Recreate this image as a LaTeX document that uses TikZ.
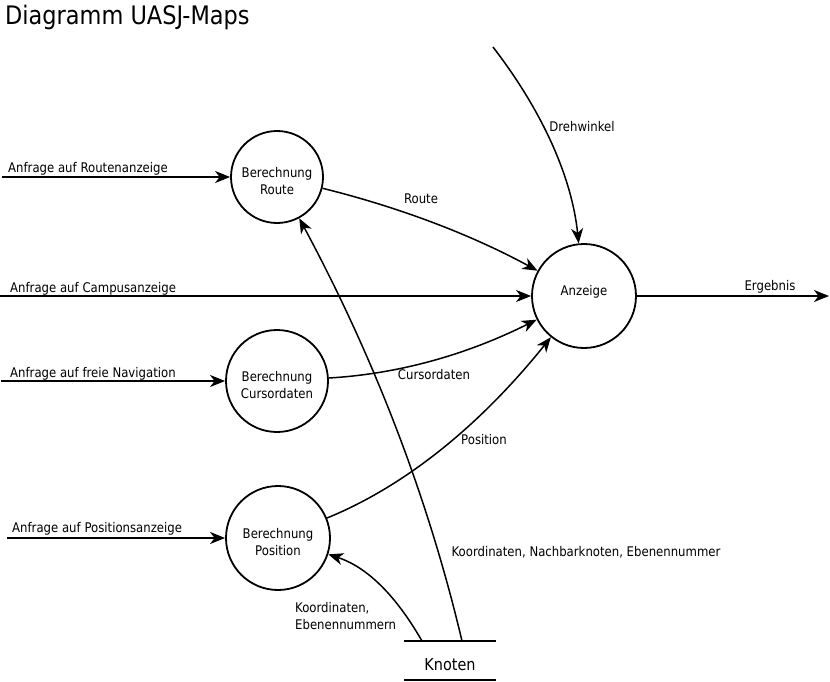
\documentclass[tikz,border=0pt]{standalone}
\usepackage{fontspec}
\setmainfont{DejaVu Sans}[FakeStretch=0.88]
\usetikzlibrary{arrows.meta,calc}
\begin{document}
\begin{tikzpicture}[x=1pt,y=-1pt,
  every node/.style={font=\fontsize{13.3pt}{17pt}\selectfont, inner sep=0pt},
  proc/.style={draw, circle, line width=1.8pt},
  flow/.style={line width=2pt, -{Stealth[length=15pt,width=12pt,inset=4.5pt]}},
  cflow/.style={line width=1.5pt, -{Stealth[length=15pt,width=12pt,inset=4.5pt]}},
  store/.style={line width=1.8pt},
  lbl/.style={anchor=base west},
]
\useasboundingbox (0,0) rectangle (830,682);
\node[anchor=base west, font=\fontsize{25.5pt}{28pt}\selectfont] (title) at (5,25) {Diagramm UASJ-Maps};

\node[proc, minimum size=92pt, label={[name=routetxt, align=center, yshift=-4pt]center:Berechnung\\Route}] (route) at (277,177) {};
\node[proc, minimum size=102pt, label={[name=cursortxt, align=center, yshift=-4pt]center:Berechnung\\Cursordaten}] (cursor) at (277,381) {};
\node[proc, minimum size=104pt, label={[name=postxt, align=center, yshift=-4pt]center:Berechnung\\Position}] (pos) at (278,538) {};
\node[proc, minimum size=104pt, label={[name=anztxt, yshift=4pt]center:Anzeige}] (anz) at (584,296) {};

\node[font=\fontsize{16.4pt}{19pt}\selectfont] (knoten) at (450,665) {Knoten};
\draw[store] ($(knoten.center)+(-46,-24)$) -- ($(knoten.center)+(46,-24)$);
\draw[store] ($(knoten.center)+(-46,15)$) -- ($(knoten.center)+(46,15)$);
\coordinate (k1) at ($(knoten.center)+(12,-24)$);
\coordinate (k2) at ($(knoten.center)+(-28,-24)$);

% inputs
\coordinate (in1) at (2,177);
\coordinate (in2) at (0,296);
\coordinate (in3) at (1,381);
\coordinate (in4) at (7,538);
\coordinate (out) at (829,296);
\coordinate (dw) at (493,47);

\draw[flow] (in1) -- (route);
\draw[flow] (in2) -- (anz);
\draw[flow] (in3) -- (cursor);
\draw[flow] (in4) -- (pos);
\draw[flow] (anz) -- (out);

\node[lbl] (l1) at (8,172) {Anfrage auf Routenanzeige};
\node[lbl] (l2) at (10,292) {Anfrage auf Campusanzeige};
\node[lbl] (l3) at (10,377) {Anfrage auf freie Navigation};
\node[lbl] (l4) at (12,532) {Anfrage auf Positionsanzeige};
\node (l5) at (770,287) {Ergebnis};

% curved flows
\draw[cflow] (route) .. controls (398,207) and (470,234) .. (anz);
\draw[cflow] (cursor) .. controls (398,374) and (466,355) .. (anz);
\draw[cflow] (pos) .. controls (403,487) and (478,428) .. (anz);
\draw[cflow] (dw) .. controls (543,112) and (572,178) .. (anz);
\draw[cflow] (k1) .. controls (428.7,500) and (375.3,359.7) .. (route);
\draw[cflow] (k2) .. controls (391,587) and (361,565) .. (pos);

\node (lr) at (421,199) {Route};
\node (lc) at (434,375) {Cursordaten};
\node (lp) at (484,440) {Position};
\node (ld) at (582,127) {Drehwinkel};
\node (lk) at (586,552) {Koordinaten, Nachbarknoten, Ebenennummer};
\node[anchor=west, align=left] (lk2) at (295,616.5) {Koordinaten,\\Ebenennummern};
\end{tikzpicture}
\end{document}
